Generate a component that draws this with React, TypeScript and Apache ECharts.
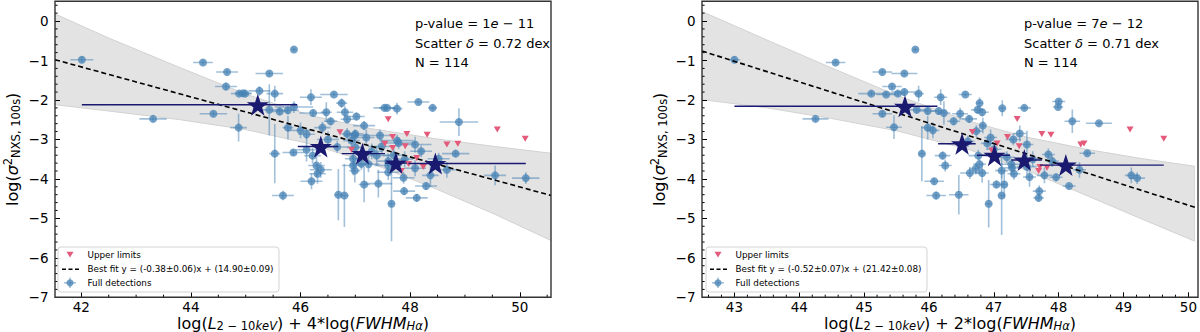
import React, { useEffect, useRef } from 'react';
import * as echarts from 'echarts';

// ---------------- data ----------------
const leftXRange = [41.52, 50.57];
const rightXRange = [42.5, 50.1];
const yRange = [-7, 0.5];
const leftXMajor = [42, 44, 46, 48, 50];
const leftXMinor = [42.5, 43, 43.5, 44.5, 45, 45.5, 46.5, 47, 47.5, 48.5, 49, 49.5, 50.5];
const rightXMajor = [43, 44, 45, 46, 47, 48, 49, 50];
const yMajor = [0, -1, -2, -3, -4, -5, -6, -7];

// [x, y, xerr, yerr]
const leftDetections = [
  [42.01, -0.98, 0.21, 0.08], [43.31, -2.48, 0.25, 0.06], [44.22, -1.05, 0.18, 0.06],
  [44.66, -1.29, 0.2, 0.06], [45.43, -1.33, 0.25, 0.06], [44.64, -1.66, 0.2, 0.1],
  [44.88, -1.84, 0.15, 0.06], [44.95, -1.83, 0.15, 0.06], [44.99, -1.84, 0.12, 0.06],
  [45.25, -1.77, 0.2, 0.12], [45.53, -1.84, 0.15, 0.2], [45.88, -0.72, 0.05, 0.05],
  [45.43, -2.25, 0.2, 0.65], [44.41, -2.35, 0.25, 0.06], [44.87, -2.7, 0.15, 0.35],
  [45.62, -2.29, 0.15, 0.1], [45.77, -2.26, 0.2, 0.1], [45.88, -2.18, 0.35, 0.15],
  [45.77, -2.7, 0.1, 0.3], [45.53, -3.36, 0.1, 0.75], [45.68, -4.42, 0.2, 0.12],
  [45.87, -3.33, 0.2, 0.08], [46.19, -1.93, 0.2, 0.2], [46.61, -1.86, 0.25, 0.06],
  [46.75, -2.08, 0.1, 0.12], [46.23, -2.33, 0.25, 0.08], [46.47, -2.31, 0.1, 0.25],
  [46.55, -2.54, 0.12, 0.1], [46.81, -2.31, 0.15, 0.15], [46.85, -2.49, 0.12, 0.1],
  [47.02, -2.42, 0.15, 0.1], [47.16, -2.65, 0.2, 0.12], [46.99, -2.9, 0.2, 0.15],
  [46.0, -2.77, 0.25, 0.2], [46.11, -2.87, 0.15, 0.12], [46.11, -3.26, 0.2, 0.3],
  [46.22, -3.41, 0.15, 0.2], [46.29, -3.66, 0.15, 0.3], [46.37, -3.77, 0.2, 0.2],
  [46.31, -3.87, 0.15, 0.25], [46.2, -4.06, 0.2, 0.2], [46.69, -4.4, 0.08, 0.65],
  [46.8, -4.42, 0.08, 0.8], [46.96, -3.49, 0.15, 0.2], [46.96, -3.66, 0.2, 0.25],
  [46.99, -3.79, 0.1, 0.3], [47.11, -3.62, 0.2, 0.15], [47.16, -4.14, 0.1, 0.45],
  [46.85, -2.86, 0.1, 0.15], [48.15, -2.05, 0.2, 0.06], [48.41, -2.2, 0.08, 0.06],
  [47.53, -2.2, 0.2, 0.06], [47.58, -2.2, 0.15, 0.06], [47.76, -2.22, 0.1, 0.15],
  [48.89, -2.56, 0.35, 0.35], [48.83, -3.36, 0.25, 0.08], [48.09, -3.13, 0.3, 0.2],
  [47.79, -3.09, 0.3, 0.15], [47.48, -3.18, 0.25, 0.2], [49.55, -3.91, 0.2, 0.25],
  [50.11, -3.98, 0.25, 0.15], [48.67, -3.77, 0.2, 0.2], [48.37, -3.91, 0.15, 0.3],
  [48.29, -4.18, 0.2, 0.1], [48.12, -4.48, 0.2, 0.1], [47.89, -4.31, 0.2, 0.1],
  [47.88, -3.97, 0.2, 0.15], [47.66, -4.63, 0.05, 0.95], [47.42, -4.12, 0.25, 0.35],
  [47.6, -3.83, 0.2, 0.2], [47.6, -3.66, 0.25, 0.2], [48.09, -3.73, 0.2, 0.2],
  [48.52, -3.49, 0.2, 0.15], [47.39, -3.41, 0.25, 0.25], [47.24, -3.63, 0.2, 0.2],
  [47.0, -2.86, 0.15, 0.1], [46.93, -3.03, 0.15, 0.2], [46.67, -3.19, 0.2, 0.15],
  [47.76, -3.03, 0.3, 0.15], [47.3, -3.3, 0.2, 0.2], [47.0, -3.2, 0.15, 0.15],
  [47.7, -3.4, 0.2, 0.2], [47.9, -3.5, 0.15, 0.2], [48.2, -3.3, 0.2, 0.15],
  [47.45, -2.9, 0.2, 0.15], [47.2, -2.95, 0.15, 0.2], [46.5, -3.0, 0.2, 0.2],
  [46.4, -2.7, 0.15, 0.15], [47.6, -3.55, 0.2, 0.2],
];

const rightDetections = [
  [43.0, -0.98, 0.09, 0.08], [44.25, -2.48, 0.2, 0.06], [44.56, -1.05, 0.15, 0.06],
  [45.28, -1.29, 0.15, 0.06], [45.43, -1.66, 0.15, 0.08], [45.11, -1.84, 0.2, 0.06],
  [45.34, -1.86, 0.15, 0.06], [45.52, -1.84, 0.12, 0.06], [45.28, -2.35, 0.15, 0.08],
  [45.46, -2.69, 0.12, 0.3], [45.79, -0.72, 0.05, 0.05], [45.62, -1.33, 0.2, 0.06],
  [45.62, -1.8, 0.2, 0.1], [45.84, -1.84, 0.08, 0.2], [46.18, -1.93, 0.1, 0.2],
  [46.56, -1.86, 0.1, 0.05], [45.81, -2.25, 0.15, 0.1], [45.98, -2.28, 0.15, 0.1],
  [46.15, -2.28, 0.12, 0.1], [46.23, -2.33, 0.1, 0.3], [45.98, -2.7, 0.1, 0.3],
  [46.06, -2.77, 0.1, 0.2], [45.89, -3.36, 0.05, 0.7], [46.21, -3.41, 0.12, 0.1],
  [46.25, -3.66, 0.1, 0.15], [46.08, -4.06, 0.15, 0.08], [46.11, -4.42, 0.15, 0.1],
  [46.46, -4.4, 0.15, 0.5], [46.38, -2.54, 0.1, 0.1], [46.48, -2.35, 0.12, 0.15],
  [46.62, -2.48, 0.12, 0.1], [46.75, -2.25, 0.1, 0.1], [46.78, -2.08, 0.05, 0.15],
  [46.82, -2.31, 0.1, 0.1], [46.83, -2.65, 0.05, 0.2], [46.73, -2.79, 0.1, 0.15],
  [47.13, -2.21, 0.05, 0.2], [46.76, -3.41, 0.15, 0.15], [46.78, -3.63, 0.1, 0.2],
  [46.72, -3.74, 0.1, 0.15], [46.63, -3.85, 0.15, 0.15], [46.82, -3.85, 0.1, 0.25],
  [46.92, -4.63, 0.05, 0.6], [47.04, -4.14, 0.1, 0.1], [47.12, -4.42, 0.05, 1.0],
  [47.16, -4.14, 0.05, 0.35], [47.12, -3.79, 0.1, 0.2], [47.27, -3.63, 0.15, 0.15],
  [47.31, -3.87, 0.1, 0.15], [48.0, -2.04, 0.1, 0.05], [47.99, -2.18, 0.08, 0.05],
  [47.47, -2.2, 0.1, 0.05], [48.21, -2.54, 0.12, 0.3], [48.62, -2.59, 0.2, 0.05],
  [48.44, -3.35, 0.12, 0.05], [47.84, -3.38, 0.1, 0.15], [47.51, -3.13, 0.1, 0.35],
  [49.12, -3.91, 0.1, 0.2], [49.21, -3.98, 0.12, 0.15], [48.32, -3.77, 0.1, 0.2],
  [48.16, -4.18, 0.1, 0.05], [47.96, -3.96, 0.1, 0.1], [47.78, -3.91, 0.12, 0.2],
  [47.7, -4.31, 0.1, 0.15], [47.69, -4.48, 0.08, 0.1], [47.28, -3.72, 0.12, 0.2],
  [47.51, -3.69, 0.15, 0.2], [46.9, -3.1, 0.1, 0.15], [47.0, -3.25, 0.12, 0.2],
  [46.6, -3.05, 0.1, 0.15], [47.3, -3.0, 0.12, 0.15], [47.4, -2.85, 0.1, 0.2],
  [47.6, -3.5, 0.12, 0.2], [47.9, -3.55, 0.1, 0.15], [46.95, -2.95, 0.1, 0.2],
  [47.2, -3.45, 0.12, 0.15], [47.55, -3.95, 0.1, 0.25],
];

// [x, y]
const leftUpperLimits = [
  [46.72, -2.82], [46.93, -3.26], [47.54, -3.11], [47.6, -2.49], [47.68, -2.94],
  [47.68, -3.22], [47.84, -3.8], [47.91, -3.17], [47.94, -2.86], [47.97, -3.62],
  [48.12, -3.47], [48.24, -3.7], [48.31, -2.88], [48.67, -3.13], [48.87, -3.11],
  [49.59, -2.75], [50.1, -2.98],
];
const rightUpperLimits = [
  [46.67, -2.81], [46.97, -3.28], [47.05, -3.1], [47.21, -2.94], [47.36, -2.48],
  [47.39, -3.17], [47.71, -3.7], [47.69, -3.8], [47.74, -2.86], [47.82, -3.72],
  [47.88, -2.88], [48.34, -3.13], [48.39, -3.1], [49.1, -2.75], [49.62, -2.98],
];

// binned means [x, y, xlo, xhi]
const leftBins = [
  [45.22, -2.12, 42.01, 45.94], [46.37, -3.18, 45.95, 46.69], [47.13, -3.36, 46.75, 47.54],
  [47.74, -3.6, 47.54, 47.94], [48.46, -3.61, 47.97, 50.11],
];
const rightBins = [
  [45.63, -2.16, 43.0, 46.13], [46.51, -3.11, 46.14, 46.72], [47.01, -3.4, 46.74, 47.25],
  [47.47, -3.52, 47.27, 47.74], [48.11, -3.65, 47.71, 49.62],
];

const leftFit = [[41.52, -0.98], [50.57, -4.42]];
const rightFit = [[42.5, -0.76], [50.1, -4.72]];

const leftBandX = [41.52, 42.5, 43.8, 45, 46.2, 47.3, 48.5, 49.55, 50.57];
const leftBandUpper = [0.18, -0.43, -1.18, -1.85, -2.4, -2.73, -2.99, -3.18, -3.35];
const leftBandLower = [-2.12, -2.28, -2.5, -2.75, -3.12, -3.61, -4.27, -4.9, -5.56];
const rightBandX = [42.5, 43.5, 44.5, 45.5, 46.6, 47.5, 48.5, 49.3, 50.1];
const rightBandUpper = [0.24, -0.48, -1.19, -1.88, -2.53, -2.94, -3.27, -3.49, -3.68];
const rightBandLower = [-1.99, -2.2, -2.47, -2.78, -3.25, -3.78, -4.47, -5.03, -5.58];

const leftStats = ['p-value = 1{i|e} − 11', 'Scatter {i|δ} = 0.72 dex', 'N = 114'];
const rightStats = ['p-value = 7{i|e} − 12', 'Scatter {i|δ} = 0.71 dex', 'N = 114'];
const leftFitLabel = 'Best fit y = (-0.38±0.06)x + (14.90±0.09)';
const rightFitLabel = 'Best fit y = (-0.52±0.07)x + (21.42±0.08)';
const legendUpper = 'Upper limits';
const legendFull = 'Full detections';

// ---------------- styling ----------------
const FONT = '"DejaVu Sans", "Liberation Sans", sans-serif';
const DET_COLOR = 'rgba(70,130,180,0.75)';
const ERR_COLOR = 'rgba(70,130,180,0.5)';
const UL_COLOR = '#e35a7a';
const STAR_COLOR = '#191970';
const STAR_PATH =
  'path://M50,0 L61.8,35.1 L98.1,35.1 L68.8,56.7 L79.4,91.2 L50,70 L20.6,91.2 L31.2,56.7 L1.9,35.1 L38.2,35.1 Z';

const GRIDS = [
  { left: 55, top: 1.3, width: 496, height: 296 },
  { left: 702, top: 1.3, width: 496, height: 296 },
];

function minorTicks(lo: number, hi: number, step: number) {
  const out: number[] = [];
  const n = Math.round((hi - lo) / step);
  for (let i = 0; i <= n; i++) {
    const v = Math.round((lo + i * step) * 10) / 10;
    if (Math.abs(v - Math.round(v)) > 1e-6) out.push(v);
  }
  return out;
}
const rightXMinor = minorTicks(42.6, 50.0, 0.2);
const yMinor = minorTicks(-6.8, 0.4, 0.2);

const fmtMinus = (v: number) => String(v).replace('-', '−');

function errRender(params: any, api: any) {
  const x = api.value(0), y = api.value(1), xe = api.value(2), ye = api.value(3);
  const l = api.coord([x - xe, y]), r = api.coord([x + xe, y]);
  const t = api.coord([x, y + ye]), b = api.coord([x, y - ye]);
  return {
    type: 'group',
    children: [
      { type: 'line', shape: { x1: l[0], y1: l[1], x2: r[0], y2: r[1] }, style: { stroke: ERR_COLOR, lineWidth: 1.6 } },
      { type: 'line', shape: { x1: t[0], y1: t[1], x2: b[0], y2: b[1] }, style: { stroke: ERR_COLOR, lineWidth: 1.6 } },
    ],
  };
}

function binBarRender(params: any, api: any) {
  const y = api.value(1), lo = api.value(2), hi = api.value(3);
  const a = api.coord([lo, y]), b = api.coord([hi, y]);
  return { type: 'line', shape: { x1: a[0], y1: a[1], x2: b[0], y2: b[1] }, style: { stroke: STAR_COLOR, lineWidth: 1.4 } };
}

function bandRender(bx: number[], up: number[], low: number[]) {
  return (params: any, api: any) => {
    if (params.dataIndex !== 0) return null;
    const pts: number[][] = [];
    for (let i = 0; i < bx.length; i++) pts.push(api.coord([bx[i], up[i]]));
    for (let i = bx.length - 1; i >= 0; i--) pts.push(api.coord([bx[i], low[i]]));
    return { type: 'polygon', shape: { points: pts }, style: { fill: '#e3e3e3', stroke: '#d2d2d2', lineWidth: 1 } };
  };
}

// minor ticks drawn through the axis scale (short inward marks)
function xMinorRender(params: any, api: any) {
  const p = api.coord([api.value(0), api.value(1)]);
  return { type: 'line', shape: { x1: p[0], y1: p[1], x2: p[0], y2: p[1] - 2.6 }, style: { stroke: '#000', lineWidth: 1 } };
}
function yMinorRender(params: any, api: any) {
  const p = api.coord([api.value(0), api.value(1)]);
  return { type: 'line', shape: { x1: p[0], y1: p[1], x2: p[0] + 2.6, y2: p[1] }, style: { stroke: '#000', lineWidth: 1 } };
}

function buildPanel(g: number, cfg: any) {
  const xAxis = {
    gridIndex: g, type: 'value', min: cfg.xRange[0], max: cfg.xRange[1], position: 'bottom', z: 10,
    axisLine: { show: false, onZero: false }, splitLine: { show: false },
    axisTick: { show: true, inside: true, length: 5, lineStyle: { color: '#000', width: 1 }, customValues: cfg.xMajor },
    axisLabel: { customValues: cfg.xMajor, color: '#000', fontSize: 13.5, lineHeight: 14, fontFamily: FONT, margin: 2.5 },
  };
  const yAxis = {
    gridIndex: g, type: 'value', min: yRange[0], max: yRange[1], position: 'left', z: 10,
    axisLine: { show: false, onZero: false }, splitLine: { show: false },
    axisTick: { show: true, inside: true, length: 5, lineStyle: { color: '#000', width: 1 }, customValues: yMajor },
    axisLabel: { customValues: yMajor, color: '#000', fontSize: 13.5, fontFamily: FONT, margin: 6.5, formatter: fmtMinus },
  };
  const xi = g, yi = g;
  const series = [
    {
      type: 'custom', xAxisIndex: xi, yAxisIndex: yi, z: 1, clip: true,
      renderItem: bandRender(cfg.bandX, cfg.bandUp, cfg.bandLow),
      data: [[cfg.bandX[0], cfg.bandUp[0]]], silent: true,
    },
    {
      type: 'custom', xAxisIndex: xi, yAxisIndex: yi, z: 2, clip: true,
      renderItem: errRender, data: cfg.det, silent: true,
    },
    {
      type: 'scatter', xAxisIndex: xi, yAxisIndex: yi, z: 3,
      data: cfg.det.map((d: number[]) => [d[0], d[1]]),
      symbol: 'circle', symbolSize: 8, itemStyle: { color: DET_COLOR, opacity: 1 }, silent: true,
    },
    {
      type: 'scatter', xAxisIndex: xi, yAxisIndex: yi, z: 4,
      data: cfg.ul, symbol: 'triangle', symbolRotate: 180, symbolSize: [7, 6],
      itemStyle: { color: UL_COLOR, opacity: 1 }, silent: true,
    },
    {
      type: 'line', xAxisIndex: xi, yAxisIndex: yi, z: 5, data: cfg.fit, symbol: 'none',
      lineStyle: { color: '#000', width: 1.6, type: [5, 3] }, silent: true,
    },
    {
      type: 'custom', xAxisIndex: xi, yAxisIndex: yi, z: 6, clip: true,
      renderItem: binBarRender, data: cfg.bins, silent: true,
    },
    {
      type: 'scatter', xAxisIndex: xi, yAxisIndex: yi, z: 7,
      data: cfg.bins.map((d: number[]) => [d[0], d[1]]),
      symbol: STAR_PATH, symbolSize: 22, itemStyle: { color: STAR_COLOR, opacity: 1 }, silent: true,
    },
    {
      type: 'custom', xAxisIndex: xi, yAxisIndex: yi, z: 20, clip: false, silent: true,
      renderItem: xMinorRender, data: cfg.xMinor.map((v: number) => [v, yRange[0]]),
    },
    {
      type: 'custom', xAxisIndex: xi, yAxisIndex: yi, z: 20, clip: false, silent: true,
      renderItem: yMinorRender, data: yMinor.map((v: number) => [cfg.xRange[0], v]),
    },
  ];
  return { xAxis, yAxis, series };
}

function panelGraphics(g: number, statLines: string[], statX: number, fitLabel: string, legX: number, xTitleRich: string, yTitleX: number) {
  const gr = GRIDS[g];
  const els: any[] = [];
  // frame
  els.push({
    type: 'rect', z: 100, silent: true,
    shape: { x: gr.left, y: gr.top, width: gr.width, height: gr.height },
    style: { fill: 'none', stroke: '#333', lineWidth: 1.4 },
  });
  // stats text
  const ys = [23.3, 43.3, 62.7];
  statLines.forEach((t, i) => {
    els.push({
      type: 'text', z: 60, silent: true,
      style: {
        x: statX, y: ys[i], text: t, fill: '#000', fontSize: 13, fontFamily: FONT,
        align: 'left', verticalAlign: 'middle',
        rich: { i: { fontSize: 13, fontFamily: FONT, fontStyle: 'italic', fill: '#000' } },
      },
    });
  });
  // legend
  const lx = legX;
  const lw = 221;
  els.push({
    type: 'rect', z: 50, silent: true,
    shape: { x: lx, y: 247, width: lw, height: 45, r: 3 },
    style: { fill: 'rgba(255,255,255,0.85)', stroke: '#d4d4d4', lineWidth: 1 },
  });
  const sx = lx + 12;
  els.push({
    type: 'polygon', z: 51, silent: true,
    shape: { points: [[sx - 3.5, 251.7], [sx + 3.5, 251.7], [sx, 257.5]] },
    style: { fill: UL_COLOR },
  });
  els.push({
    type: 'line', z: 51, silent: true,
    shape: { x1: lx + 4, y1: 269.3, x2: lx + 22, y2: 269.3 },
    style: { stroke: '#000', lineWidth: 1.5, lineDash: [4, 2.5] },
  });
  els.push({ type: 'line', z: 51, silent: true, shape: { x1: sx - 6, y1: 282.8, x2: sx + 6, y2: 282.8 }, style: { stroke: ERR_COLOR, lineWidth: 1.5 } });
  els.push({ type: 'line', z: 51, silent: true, shape: { x1: sx, y1: 277.6, x2: sx, y2: 288 }, style: { stroke: ERR_COLOR, lineWidth: 1.5 } });
  els.push({ type: 'circle', z: 52, silent: true, shape: { cx: sx, cy: 282.8, r: 3.6 }, style: { fill: DET_COLOR } });
  const texts = [legendUpper, fitLabel, legendFull];
  const ty = [254.6, 269.3, 282.8];
  texts.forEach((t, i) => {
    els.push({
      type: 'text', z: 52, silent: true,
      style: { x: lx + 29.5, y: ty[i], text: t, fill: '#000', fontSize: 8.8, fontFamily: FONT, align: 'left', verticalAlign: 'middle' },
    });
  });
  // x title
  const big = { fontSize: 16, fontFamily: FONT, fill: '#000' };
  els.push({
    type: 'text', z: 60, silent: true,
    style: {
      x: gr.left + gr.width / 2, y: 323, text: xTitleRich, fill: '#000', fontSize: 16, fontFamily: FONT,
      align: 'center', verticalAlign: 'middle', lineHeight: 17,
      rich: {
        n: { ...big, lineHeight: 17 },
        i: { ...big, fontStyle: 'italic', lineHeight: 17 },
        sub: { fontSize: 11.5, fontFamily: FONT, fill: '#000', verticalAlign: 'bottom', lineHeight: 9 },
        subi: { fontSize: 11.5, fontFamily: FONT, fill: '#000', fontStyle: 'italic', verticalAlign: 'bottom', lineHeight: 9 },
      },
    },
  });
  // y title
  els.push({
    type: 'text', z: 60, silent: true, x: yTitleX, y: gr.top + gr.height / 2, rotation: Math.PI / 2,
    style: {
      x: 0, y: 0, text: '{n|log(}{i|σ}{sup|2}{sub|NXS, 100s}{n|)}', fill: '#000', fontSize: 16, fontFamily: FONT,
      align: 'center', verticalAlign: 'middle', lineHeight: 20,
      rich: {
        n: { ...big, lineHeight: 20 },
        i: { ...big, fontStyle: 'italic', lineHeight: 20 },
        sup: { fontSize: 11.5, fontFamily: FONT, fill: '#000', verticalAlign: 'top', lineHeight: 11 },
        sub: { fontSize: 11.5, fontFamily: FONT, fill: '#000', verticalAlign: 'bottom', lineHeight: 11 },
      },
    },
  });
  return els;
}

export default function App() {
  const ref = useRef<HTMLDivElement>(null);
  useEffect(() => {
    if (!ref.current) return;
    const chart = echarts.init(ref.current, undefined, { renderer: 'svg' });
    const p0 = buildPanel(0, {
      xRange: leftXRange, xMajor: leftXMajor, xMinor: leftXMinor,
      bandX: leftBandX, bandUp: leftBandUpper, bandLow: leftBandLower,
      det: leftDetections, ul: leftUpperLimits, fit: leftFit, bins: leftBins,
    });
    const p1 = buildPanel(1, {
      xRange: rightXRange, xMajor: rightXMajor, xMinor: rightXMinor,
      bandX: rightBandX, bandUp: rightBandUpper, bandLow: rightBandLower,
      det: rightDetections, ul: rightUpperLimits, fit: rightFit, bins: rightBins,
    });
    const graphics = [
      ...panelGraphics(0, leftStats, 415, leftFitLabel, 58,
        '{n|log(}{i|L}{sub|2 − 10}{subi|keV}{n|) + 4*log(}{i|FWHM}{subi|Hα}{n|)}', 12),
      ...panelGraphics(1, rightStats, 1024, rightFitLabel, 706,
        '{n|log(}{i|L}{sub|2 − 10}{subi|keV}{n|) + 2*log(}{i|FWHM}{subi|Hα}{n|)}', 659),
    ];
    chart.setOption({
      animation: false,
      backgroundColor: '#fff',
      grid: GRIDS.map((g) => ({ ...g, show: false, containLabel: false })),
      xAxis: [p0.xAxis, p1.xAxis],
      yAxis: [p0.yAxis, p1.yAxis],
      series: [...p0.series, ...p1.series],
      graphic: { elements: graphics },
    });
    return () => chart.dispose();
  }, []);
  return (
    <div
      ref={ref}
      style={{ position: 'fixed', left: 0, top: 0, width: 1200, height: 332, background: '#fff' }}
    />
  );
}
